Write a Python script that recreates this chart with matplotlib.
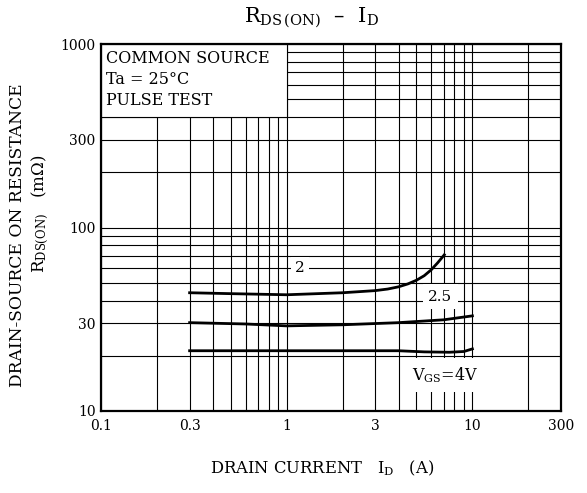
"""RDS(ON) - ID chart recreation"""

import matplotlib
matplotlib.use('Agg')
import matplotlib.pyplot as plt
import matplotlib.patches as ptc
from matplotlib.ticker import FixedLocator, NullFormatter

plt.rcParams['font.family'] = ['DejaVu Serif']
plt.rcParams['mathtext.fontset'] = 'dejavuserif'

# VGS = 2 V
id_2 = [0.3, 0.5, 1.0, 2.0, 3.0, 3.5, 4.0, 4.5, 5.0, 5.5, 6.0, 6.5, 7.06]
rds_2 = [44.1, 43.6, 43.0, 44.1, 45.3, 46.2, 47.5, 49.3, 51.6, 54.6, 58.8, 64.2, 71.0]
# VGS = 2.5 V
id_25 = [0.3, 0.6, 1.0, 2.0, 4.0, 7.0, 10.0]
rds_25 = [30.3, 29.8, 29.1, 29.5, 30.3, 31.4, 33.0]
# VGS = 4 V
id_4 = [0.3, 1.0, 4.0, 5.5, 7.5, 9.0, 10.0]
rds_4 = [21.3, 21.3, 21.3, 21.0, 20.9, 21.1, 21.8]

x_ticks = [0.1, 0.3, 1, 3, 10, 30]
x_labels = ['0.1', '0.3', '1', '3', '10', '300']
y_ticks = [10, 30, 100, 300, 1000]
y_labels = ['10', '30', '100', '300', '1000']

fig = plt.figure(figsize=(5.87, 4.93), dpi=100)
ax = fig.add_axes([101 / 587, 1 - 411 / 493, 460 / 587, 367 / 493])
ax.set_xscale('log')
ax.set_yscale('log')
ax.set_xlim(0.1, 30)
ax.set_ylim(10, 1000)

ax.xaxis.set_major_locator(FixedLocator(x_ticks))
ax.set_xticklabels(x_labels)
ax.yaxis.set_major_locator(FixedLocator(y_ticks))
ax.set_yticklabels(y_labels)
minor_x = [m * 10 ** e for e in (-1, 0, 1) for m in range(1, 10)]
minor_y = [m * 10 ** e for e in (1, 2) for m in range(1, 10)]
ax.xaxis.set_minor_locator(FixedLocator(minor_x))
ax.yaxis.set_minor_locator(FixedLocator(minor_y))
ax.xaxis.set_minor_formatter(NullFormatter())
ax.yaxis.set_minor_formatter(NullFormatter())
ax.tick_params(which='both', length=0, labelsize=10, colors='black')
ax.tick_params(axis='x', pad=6)
ax.tick_params(axis='y', pad=4)

ax.set_axisbelow(True)
ax.grid(which='both', color='black', lw=0.8)
for sp in ax.spines.values():
    sp.set_linewidth(1.6)

# white box for the conditions
ax.add_patch(ptc.Rectangle((0.1, 400), 0.9, 600, fc='white', ec='black',
                           lw=0.8, zorder=1))
ax.text(0.107, 930, 'COMMON SOURCE\nTa = 25°C\nPULSE TEST', fontsize=11.5,
        va='top', ha='left', linespacing=1.3, zorder=3)

for xs, ys in ((id_2, rds_2), (id_25, rds_25), (id_4, rds_4)):
    ax.plot(xs, ys, color='black', lw=2.0, zorder=4)

ax.text(1.18, 60, '2', fontsize=11, ha='center', va='center',
        bbox=dict(fc='white', ec='none', pad=3), zorder=5)
ax.text(6.7, 42, '2.5', fontsize=11, ha='center', va='center',
        bbox=dict(fc='white', ec='none', pad=4), zorder=5)
ax.text(7.1, 15.7, r'V$_{\mathrm{GS}}$=4V', fontsize=11.5, ha='center',
        va='center', bbox=dict(fc='white', ec='none', pad=5), zorder=5)

fig.text(311 / 587, 1 - 18 / 493, r'R$_{\mathrm{DS\,(ON)}}$  –  I$_{\mathrm{D}}$',
         fontsize=15, ha='center', va='center')
fig.text(322 / 587, 1 - 468 / 493, r'DRAIN CURRENT   I$_{\mathrm{D}}$   (A)',
         fontsize=11.8, ha='center', va='center')
fig.text(18 / 587, 1 - 235 / 493, 'DRAIN-SOURCE ON RESISTANCE', fontsize=12.3,
         rotation=90, ha='center', va='center')
fig.text(40 / 587, 1 - 214 / 493, r'R$_{\mathrm{DS(ON)}}$   (m$\Omega$)',
         fontsize=12, rotation=90, ha='center', va='center')

fig.savefig('out.png', dpi=100)
